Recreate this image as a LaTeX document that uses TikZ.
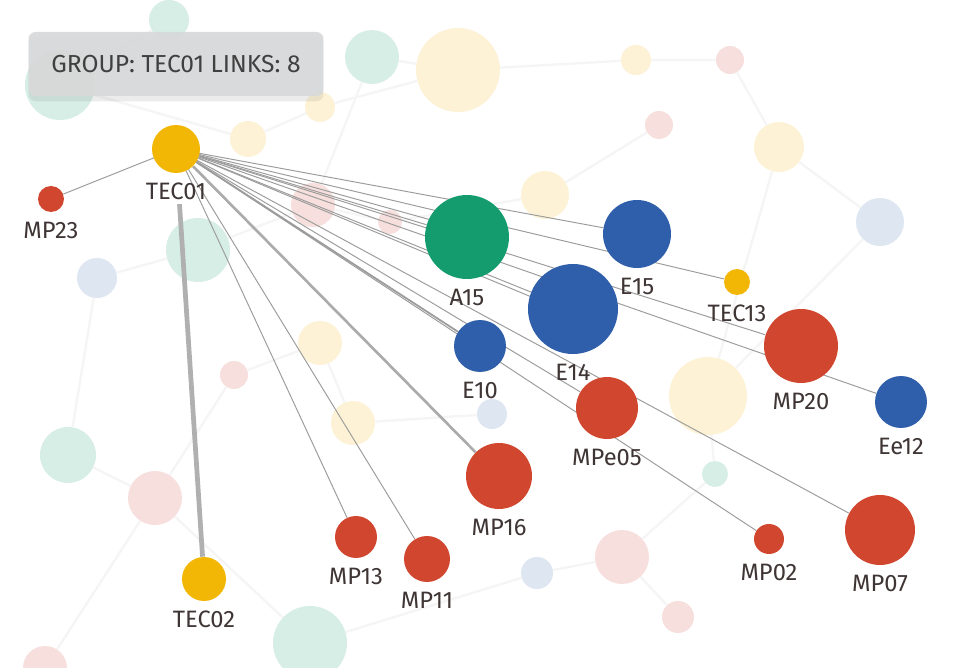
\documentclass[tikz,border=0pt]{standalone}
\usepackage{fontspec}
\setmainfont{Fira Sans}
\usetikzlibrary{positioning,shadows}
\definecolor{NodeRed}{HTML}{D1462F}
\definecolor{NodeBlue}{HTML}{2F5FAA}
\definecolor{NodeGreen}{HTML}{159C6E}
\definecolor{NodeGold}{HTML}{F2B705}
\definecolor{FadeTeal}{HTML}{D6EEE6}
\definecolor{FadeGold}{HTML}{FDF2D5}
\definecolor{FadePink}{HTML}{F6DFDC}
\definecolor{FadeBlue}{HTML}{DDE6F1}
\definecolor{LabelGray}{HTML}{3F3535}
\definecolor{LinkGray}{HTML}{9C9C9C}
\definecolor{TipGray}{HTML}{D8D9DA}
\pgfdeclarelayer{far}
\pgfdeclarelayer{links}
\pgfsetlayers{far,links,main}

\begin{document}
\begin{tikzpicture}[
  x=0.02cm,y=-0.02cm,
  dot/.style={circle,inner sep=0pt,minimum size=#1*0.4mm},
  gnode/.style 2 args={dot=#2,fill=#1},
  lbl/.style={font=\fontsize{13.5}{15}\selectfont,text=LabelGray,inner sep=0pt,label distance=5.5pt},
  link/.style={draw=LinkGray,line width=0.55pt},
  midlink/.style={draw=LinkGray!85,line width=1.5pt},
  heavylink/.style={draw=LinkGray!80,line width=2.7pt},
  faint/.style={draw=black!4,line width=1.3pt},
  tip/.style={fill=TipGray,fill opacity=0.94,text opacity=1,rounded corners=4pt,
    minimum width=5.9cm,minimum height=1.28cm,text=black!75,
    font=\fontsize{14}{16}\selectfont,drop shadow={opacity=0.15,shadow xshift=0pt,shadow yshift=-3pt}}
]
\useasboundingbox (0,0) rectangle (958,668);

% faded background graph
\begin{pgfonlayer}{far}
  \fill[white] (0,0) rectangle (958,668);
  \foreach \x/\y/\r/\c [count=\i] in {
      169/20/20/FadeTeal, 60/85/35/FadeTeal, 372/57/27/FadeTeal, 458/70/42/FadeGold,
      320/107/15/FadeGold, 248/139/18/FadeGold, 636/60/15/FadeGold, 730/60/14/FadePink,
      659/125/14/FadePink, 779/147/25/FadeGold, 545/195/24/FadeGold, 313/205/22/FadePink,
      390/222/12/FadePink, 198/250/32/FadeTeal, 97/278/20/FadeBlue, 880/222/24/FadeBlue,
      320/343/22/FadeGold, 234/375/14/FadePink, 353/423/22/FadeGold, 492/414/15/FadeBlue,
      708/396/39/FadeGold, 715/474/13/FadeTeal, 68/455/28/FadeTeal, 155/498/27/FadePink,
      622/557/27/FadePink, 537/573/16/FadeBlue, 678/617/16/FadePink, 310/643/37/FadeTeal,
      45/668/22/FadePink}
    \node[dot=\r,fill=\c] (bg\i) at (\x,\y) {};
  \draw[faint] (bg2)--(bg6) (bg6)--(bg5) (bg5)--(bg4) (bg4)--(bg7) (bg7)--(bg8)
    (bg8)--(bg10) (bg10)--(bg16) (bg9)--(bg11) (bg11)--(bg13) (bg13)--(bg12)
    (bg12)--(bg14) (bg14)--(bg15) (bg15)--(bg23) (bg23)--(bg24) (bg24)--(bg28)
    (bg28)--(bg26) (bg26)--(bg25) (bg25)--(bg27) (bg21)--(bg22) (bg22)--(bg25)
    (bg17)--(bg19) (bg19)--(bg20) (bg18)--(bg24) (bg3)--(bg4) (bg3)--(bg12)
    (bg1)--(bg2) (bg24)--(bg29) (bg16)--(bg21) (bg10)--(bg21) (bg17)--(bg18);
\end{pgfonlayer}

% linked nodes
\node[gnode={NodeGold}{24},label={[lbl,name=tec01lbl]below:TEC01}] (tec01) at (176,149) {};
\node[gnode={NodeRed}{13},label={[lbl]below:MP23}] (mp23) at (51,199) {};
\node[gnode={NodeGreen}{42},label={[lbl]below:A15}] (a15) at (467,237) {};
\node[gnode={NodeBlue}{34},label={[lbl]below:E15}] (e15) at (637,234) {};
\node[gnode={NodeGold}{13},label={[lbl]below:TEC13}] (tec13) at (737,282) {};
\node[gnode={NodeBlue}{45},label={[lbl]below:E14}] (e14) at (573,309) {};
\node[gnode={NodeBlue}{26},label={[lbl]below:E10}] (e10) at (480,346) {};
\node[gnode={NodeRed}{37},label={[lbl]below:MP20}] (mp20) at (801,346) {};
\node[gnode={NodeBlue}{26},label={[lbl]below:Ee12}] (ee12) at (901,402) {};
\node[gnode={NodeRed}{31},label={[lbl]below:MPe05}] (mpe05) at (607,408) {};
\node[gnode={NodeRed}{33},label={[lbl]below:MP16}] (mp16) at (499,476) {};
\node[gnode={NodeRed}{21},label={[lbl]below:MP13}] (mp13) at (356,537) {};
\node[gnode={NodeRed}{23},label={[lbl]below:MP11}] (mp11) at (427,559) {};
\node[gnode={NodeGold}{22},label={[lbl]below:TEC02}] (tec02) at (204,579) {};
\node[gnode={NodeRed}{15},label={[lbl]below:MP02}] (mp02) at (769,539) {};
\node[gnode={NodeRed}{35},label={[lbl]below:MP07}] (mp07) at (880,530) {};

% links of TEC01
\begin{pgfonlayer}{links}
  \draw[heavylink] ([xshift=2pt,yshift=-2pt]tec01lbl.south) -- (tec02);
  \draw[midlink] (tec01)--(mp16);
  \draw[link,line width=1pt] (tec01)--(e10);
  \foreach \t in {mp23,mp13,mp11,a15,e15,tec13,e14,mp20,ee12,mpe05,mp02,mp07}
    \draw[link] (tec01.center)--(\t);
  \draw[link] (tec01)--([yshift=4pt]a15.center);
  \draw[link] (tec01)--([yshift=-3pt]e14.center);
\end{pgfonlayer}

\node[tip] (tooltip) at (176,64) {GROUP: TEC01 LINKS: 8};
\end{tikzpicture}
\end{document}
